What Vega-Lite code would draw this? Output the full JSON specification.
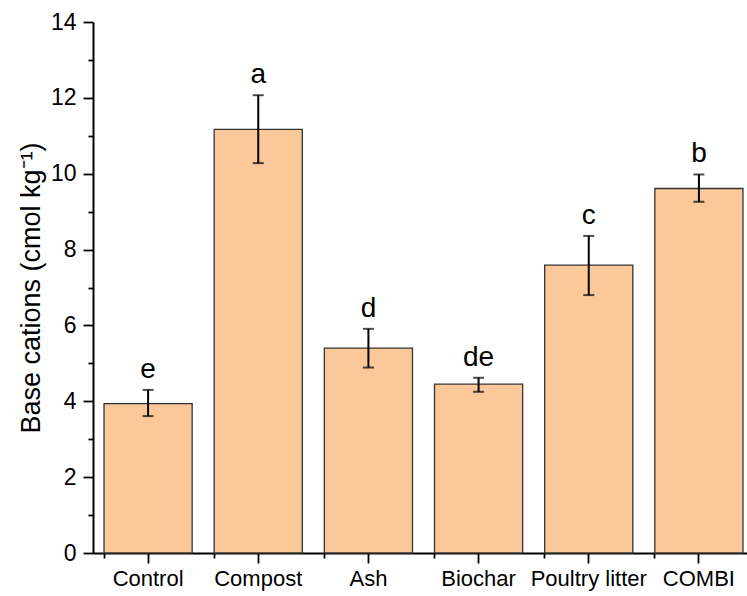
{
  "$schema": "https://vega.github.io/schema/vega-lite/v6.json",
  "width": 654,
  "height": 531,
  "autosize": {"type": "none"},
  "padding": {"left": 93, "top": 22, "right": 0, "bottom": 43},
  "config": {
    "view": {"stroke": null},
    "font": "Liberation Sans",
    "axis": {"grid": false, "domainColor": "black", "domainWidth": 2, "tickColor": "black", "tickWidth": 1.8, "labelColor": "black", "titleColor": "black", "labelFont": "Liberation Sans", "titleFont": "Liberation Sans"}
  },
  "data": {
    "values": [
      {"trt": "Control", "mean": 3.94, "lo": 3.61, "hi": 4.3, "sig": "e"},
      {"trt": "Compost", "mean": 11.17, "lo": 10.28, "hi": 12.07, "sig": "a"},
      {"trt": "Ash", "mean": 5.4, "lo": 4.89, "hi": 5.91, "sig": "d"},
      {"trt": "Biochar", "mean": 4.45, "lo": 4.25, "hi": 4.62, "sig": "de"},
      {"trt": "Poultry litter", "mean": 7.59, "lo": 6.8, "hi": 8.36, "sig": "c"},
      {"trt": "COMBI", "mean": 9.61, "lo": 9.26, "hi": 9.98, "sig": "b"}
    ]
  },
  "resolve": {"axis": {"x": "independent", "y": "independent"}},
  "layer": [
    {
      "mark": {"type": "bar", "fill": "#FBC899", "stroke": "#333333", "strokeWidth": 1.3},
      "encoding": {
        "x": {"field": "trt", "type": "nominal", "sort": null,
          "scale": {"paddingInner": 0.2, "paddingOuter": 0.1, "range": [0, 661]},
          "axis": {"orient": "bottom", "title": null, "labelAngle": 0, "labelFontSize": 22, "tickSize": 10, "labelPadding": 5, "domain": true}},
        "y": {"field": "mean", "type": "quantitative",
          "scale": {"domain": [0, 14], "nice": false},
          "axis": {"orient": "left", "values": [0, 2, 4, 6, 8, 10, 12, 14], "labelFontSize": 23, "tickSize": 10, "labelPadding": 7,
            "title": "Base cations (cmol kg⁻¹)", "titleFontSize": 27, "titleFontWeight": "normal", "titlePadding": 5}}
      }
    },
    {
      "mark": {"type": "tick", "opacity": 0},
      "encoding": {
        "x": {"field": "trt", "type": "nominal", "sort": null,
          "axis": {"orient": "bottom", "bandPosition": 0, "labels": false, "domain": false, "tickSize": 5, "title": null}},
        "y": {"field": "mean", "type": "quantitative",
          "axis": {"orient": "left", "values": [1, 3, 5, 7, 9, 11, 13], "labels": false, "domain": false, "tickSize": 5, "title": null}}
      }
    },
    {
      "mark": {"type": "rule", "color": "black", "strokeWidth": 2},
      "encoding": {
        "x": {"field": "trt", "type": "nominal", "sort": null, "axis": null},
        "y": {"field": "lo", "type": "quantitative", "axis": null},
        "y2": {"field": "hi"}
      }
    },
    {
      "mark": {"type": "tick", "color": "black", "thickness": 2, "size": 11},
      "encoding": {
        "x": {"field": "trt", "type": "nominal", "sort": null, "axis": null},
        "y": {"field": "lo", "type": "quantitative", "axis": null}
      }
    },
    {
      "mark": {"type": "tick", "color": "black", "thickness": 2, "size": 11},
      "encoding": {
        "x": {"field": "trt", "type": "nominal", "sort": null, "axis": null},
        "y": {"field": "hi", "type": "quantitative", "axis": null}
      }
    },
    {
      "mark": {"type": "text", "fontSize": 28, "baseline": "alphabetic", "dy": -12, "color": "black"},
      "encoding": {
        "x": {"field": "trt", "type": "nominal", "sort": null, "axis": null},
        "y": {"field": "hi", "type": "quantitative", "axis": null},
        "text": {"field": "sig"}
      }
    }
  ]
}
